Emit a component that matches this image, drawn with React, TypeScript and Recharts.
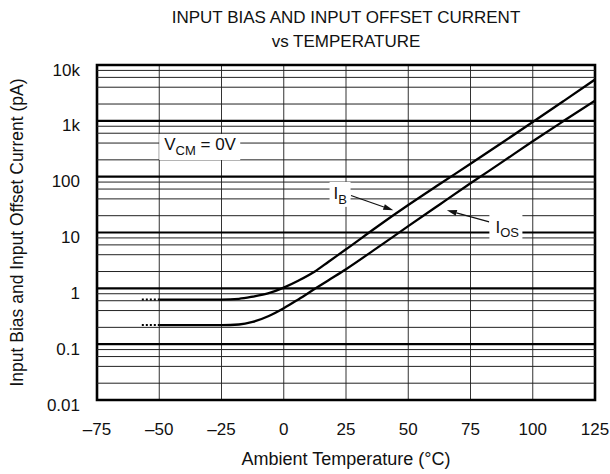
import {
  LineChart,
  Line,
  XAxis,
  YAxis,
  CartesianGrid,
  ReferenceLine,
  ReferenceArea,
  ReferenceDot,
} from 'recharts';

// temperature points (°C)
const temps = [-50, -37.5, -25, -18, -12.5, -6, 0, 6, 12.5, 18, 25, 37.5, 50, 62.5, 75, 87.5, 100, 112.5, 125];
// input bias current IB (pA)
const ibValues = [0.63, 0.63, 0.63, 0.65, 0.71, 0.82, 1.03, 1.38, 2.0, 3.0, 5.0, 12.7, 31, 73, 170, 400, 950, 2280, 5500];
// input offset current IOS (pA)
const iosValues = [0.22, 0.22, 0.22, 0.225, 0.25, 0.32, 0.44, 0.64, 0.98, 1.4, 2.2, 5.3, 13, 31.5, 76, 180, 430, 1000, 2300];

// dotted lead-in on the left of each curve
const leaderTemps = [-57, -50];
const ibLeader = [0.63, 0.63];
const iosLeader = [0.22, 0.22];

const xTicks = [-75, -50, -25, 0, 25, 50, 75, 100, 125];
const yTicks = [0.01, 0.1, 1, 10, 100, 1000, 10000];
const yTickLabels = ['0.01', '0.1', '1', '10', '100', '1k', '10k'];
const minorSteps = [2, 4, 6, 8];

const FONT = '"Liberation Sans", Arial, Helvetica, sans-serif';
const INK = '#111';

const ibData = temps.map((t, i) => ({ t, v: ibValues[i] }));
const iosData = temps.map((t, i) => ({ t, v: iosValues[i] }));
const ibLeadData = leaderTemps.map((t, i) => ({ t, v: ibLeader[i] }));
const iosLeadData = leaderTemps.map((t, i) => ({ t, v: iosLeader[i] }));

const minorLines: number[] = [];
for (const d of yTicks.slice(0, -1)) {
  for (const s of minorSteps) minorLines.push(d * s);
}

const fmtX = (v: number) => (v < 0 ? `\u2013${Math.abs(v)}` : `${v}`);

const XTick = ({ x, y, payload }: any) => (
  <text x={x} y={y + 35} textAnchor="middle" fontSize={17} fill={INK} fontFamily={FONT}>
    {fmtX(payload.value)}
  </text>
);

const YTick = ({ x, y, payload }: any) => {
  const idx = yTicks.indexOf(payload.value);
  return (
    <text x={x - 17} y={y + 10.5} textAnchor="end" fontSize={17} fill={INK} fontFamily={FONT}>
      {yTickLabels[idx]}
    </text>
  );
};

const arrowShape = (p: any) => {
  const { x1, y1, x2, y2 } = p;
  const a = Math.atan2(y2 - y1, x2 - x1);
  const len = 10;
  const hw = 3;
  const bx = x2 - len * Math.cos(a);
  const by = y2 - len * Math.sin(a);
  const pts = `${x2},${y2} ${bx - hw * Math.sin(a)},${by + hw * Math.cos(a)} ${bx + hw * Math.sin(a)},${by - hw * Math.cos(a)}`;
  return (
    <g>
      <line x1={x1} y1={y1} x2={bx} y2={by} stroke={INK} strokeWidth={1.2} />
      <polygon points={pts} fill={INK} />
    </g>
  );
};

const vcmLabel = ({ cx, cy }: any) => (
  <g fontFamily={FONT} fill={INK}>
    <rect x={cx - 5} y={cy - 16} width={81} height={26} fill="#fff" />
    <text x={cx} y={cy} fontSize={17}>
      V<tspan fontSize={13} dy={5}>CM</tspan>
      <tspan dy={-5}> = 0V</tspan>
    </text>
  </g>
);

const ibLabel = ({ cx, cy }: any) => (
  <g fontFamily={FONT} fill={INK}>
    <rect x={cx - 4} y={cy - 17} width={21} height={25} fill="#fff" />
    <text x={cx} y={cy} fontSize={17}>
      I<tspan fontSize={13} dy={5}>B</tspan>
    </text>
  </g>
);

const iosLabel = ({ cx, cy }: any) => (
  <g fontFamily={FONT} fill={INK}>
    <rect x={cx - 6} y={cy - 20} width={33} height={27} fill="#fff" />
    <text x={cx} y={cy} fontSize={17}>
      I<tspan fontSize={13} dy={4}>OS</tspan>
    </text>
  </g>
);

const xTitle = (p: any) => {
  const vb = p.viewBox;
  return (
    <text x={vb.x + vb.width / 2} y={vb.y + 65} textAnchor="middle" fontSize={18} fill={INK} fontFamily={FONT}>
      Ambient Temperature (°C)
    </text>
  );
};

const yTitle = (p: any) => {
  const vb = p.viewBox;
  const cy = vb.y + vb.height / 2;
  return (
    <text
      x={17}
      y={cy}
      transform={`rotate(-90 17 ${cy})`}
      textAnchor="middle"
      dominantBaseline="central"
      fontSize={17.5}
      fill={INK}
      fontFamily={FONT}
    >
      Input Bias and Input Offset Current (pA)
    </text>
  );
};

export default function App() {
  return (
    <div style={{ position: 'absolute', left: 0, top: 0, width: 610, height: 474, background: '#fff', fontFamily: FONT }}>
      <div
        style={{
          position: 'absolute',
          left: 97,
          width: 498,
          top: 6,
          textAlign: 'center',
          fontSize: 17,
          lineHeight: '24px',
          color: INK,
        }}
      >
        INPUT BIAS AND INPUT OFFSET CURRENT
        <br />
        vs TEMPERATURE
      </div>
      <LineChart width={610} height={474} margin={{ top: 65, right: 15, bottom: 0, left: 0 }}>
        <CartesianGrid horizontal={false} stroke="#333" strokeWidth={1} />
        <XAxis
          dataKey="t"
          type="number"
          domain={[-75, 125]}
          ticks={xTicks}
          allowDataOverflow
          height={74}
          axisLine={false}
          tickLine={false}
          tickSize={0}
          tickMargin={0}
          tick={<XTick />}
          label={xTitle}
        />
        <YAxis
          type="number"
          scale="log"
          domain={[0.01, 10000]}
          ticks={yTicks}
          allowDataOverflow
          width={97}
          axisLine={false}
          tickLine={false}
          tickSize={0}
          tickMargin={0}
          tick={<YTick />}
          label={yTitle}
        />
        {minorLines.map((v) => (
          <ReferenceLine key={`m${v}`} y={v} stroke="#222" strokeWidth={1} />
        ))}
        {yTicks.map((v) => (
          <ReferenceLine key={`d${v}`} y={v} stroke="#000" strokeWidth={2.2} />
        ))}
        <ReferenceArea x1={-75} x2={125} y1={0.01} y2={10000} fill="none" stroke="#000" strokeWidth={2.6} />

        <Line data={ibData} dataKey="v" type="monotone" stroke="#000" strokeWidth={2.3} dot={false} activeDot={false} isAnimationActive={false} />
        <Line data={iosData} dataKey="v" type="monotone" stroke="#000" strokeWidth={2.3} dot={false} activeDot={false} isAnimationActive={false} />
        <Line data={ibLeadData} dataKey="v" stroke="#000" strokeWidth={2} strokeDasharray="2 2" dot={false} activeDot={false} isAnimationActive={false} />
        <Line data={iosLeadData} dataKey="v" stroke="#000" strokeWidth={2} strokeDasharray="2 2" dot={false} activeDot={false} isAnimationActive={false} />

        <ReferenceLine segment={[{ x: 27, y: 46 }, { x: 44, y: 25 }]} shape={arrowShape} />
        <ReferenceLine segment={[{ x: 82.5, y: 15.5 }, { x: 65.5, y: 25 }]} shape={arrowShape} />

        <ReferenceDot x={-48} y={300} r={0} shape={vcmLabel} />
        <ReferenceDot x={20} y={40} r={0} shape={ibLabel} />
        <ReferenceDot x={85} y={10} r={0} shape={iosLabel} />
      </LineChart>
    </div>
  );
}
